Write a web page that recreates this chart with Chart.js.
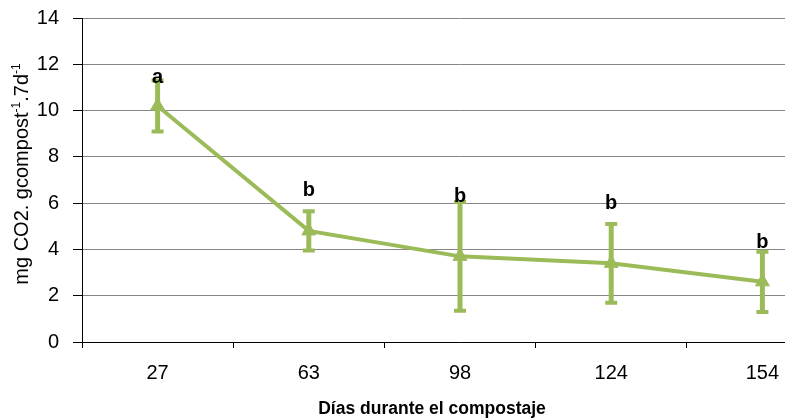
<!DOCTYPE html>
<html>
<head>
<meta charset="utf-8">
<script src="https://cdn.jsdelivr.net/npm/chart.js@4"></script>
<style>
  html, body { margin: 0; padding: 0; background: #fff; overflow: hidden; }
  #wrap { width: 847px; height: 420px; position: relative; }
</style>
</head>
<body>
<div id="wrap"><canvas id="chart"></canvas></div>
<script>
// Days of composting (categories) and measured values
let dayLabels = ['27', '63', '98', '124', '154'];
let co2Values = [10.2, 4.8, 3.7, 3.4, 2.6];
let co2Errors = [1.1, 0.85, 2.35, 1.7, 1.3];
// Significance letters and the height (in data units) where each one sits
let groupLetters = ['a', 'b', 'b', 'b', 'b'];
let letterHeights = [11.2, 6.3, 6.05, 5.75, 4.05];
let yTicks = [0, 2, 4, 6, 8, 10, 12, 14];

let green = '#9BBB59';
let fontFamily = '"Liberation Sans", Arial, sans-serif';

// Draws the error bars, the letters above them and the axis titles.
const extrasPlugin = {
    id: 'extras',
    afterDatasetsDraw(chart) {
        const ctx = chart.ctx;
        const x = chart.scales.x;
        const y = chart.scales.y;
        ctx.save();
        co2Values.forEach((v, i) => {
            const px = x.getPixelForValue(i);
            const top = y.getPixelForValue(v + co2Errors[i]);
            const bottom = y.getPixelForValue(v - co2Errors[i]);
            ctx.strokeStyle = green;
            ctx.lineWidth = 5;
            ctx.beginPath();
            ctx.moveTo(px, top);
            ctx.lineTo(px, bottom);
            ctx.stroke();
            ctx.lineWidth = 4;
            ctx.beginPath();
            ctx.moveTo(px - 6, top);
            ctx.lineTo(px + 6, top);
            ctx.moveTo(px - 6, bottom);
            ctx.lineTo(px + 6, bottom);
            ctx.stroke();

            ctx.fillStyle = '#000';
            ctx.font = 'bold 20px ' + fontFamily;
            ctx.textAlign = 'center';
            ctx.textBaseline = 'alphabetic';
            ctx.fillText(groupLetters[i], px, y.getPixelForValue(letterHeights[i]));
        });
        ctx.restore();
    },
    afterDraw(chart) {
        const ctx = chart.ctx;
        ctx.save();
        // x axis title
        ctx.fillStyle = '#000';
        ctx.font = 'bold 17.5px ' + fontFamily;
        ctx.textAlign = 'center';
        ctx.textBaseline = 'middle';
        ctx.fillText('Días durante el compostaje', 432, 409);

        // y axis title with superscripts
        ctx.translate(28, 174);
        ctx.rotate(-Math.PI / 2);
        ctx.textBaseline = 'alphabetic';
        const parts = [
            ['mg CO2. gcompost', false],
            ['-1', true],
            ['.7d', false],
            ['-1', true]
        ];
        const normal = '20px ' + fontFamily;
        const small = '12px ' + fontFamily;
        let total = 0;
        parts.forEach(p => {
            ctx.font = p[1] ? small : normal;
            total += ctx.measureText(p[0]).width;
        });
        let cx = -total / 2;
        ctx.textAlign = 'left';
        parts.forEach(p => {
            ctx.font = p[1] ? small : normal;
            ctx.fillText(p[0], cx, p[1] ? -8 : 0);
            cx += ctx.measureText(p[0]).width;
        });
        ctx.restore();
    }
};

new Chart(document.getElementById('chart'), {
    type: 'line',
    data: {
        labels: dayLabels,
        datasets: [{
            data: co2Values,
            borderColor: green,
            backgroundColor: green,
            borderWidth: 4,
            pointStyle: 'triangle',
            pointRadius: 8,
            pointBorderWidth: 1,
            tension: 0
        }]
    },
    options: {
        responsive: true,
        maintainAspectRatio: false,
        animation: false,
        layout: { padding: { top: 18, right: 2, left: 0, bottom: 0 } },
        plugins: {
            legend: { display: false },
            tooltip: { enabled: false }
        },
        scales: {
            x: {
                offset: true,
                grid: {
                    offset: true,
                    drawOnChartArea: false,
                    drawTicks: true,
                    tickLength: 6,
                    color: '#000'
                },
                border: { color: '#000', width: 1 },
                ticks: {
                    color: '#000',
                    padding: 13,
                    font: { family: fontFamily, size: 20 }
                },
                afterFit(scale) { scale.height = 78; }
            },
            y: {
                min: 0,
                max: 14,
                afterBuildTicks(scale) {
                    scale.ticks = yTicks.map(v => ({ value: v }));
                },
                grid: {
                    color: '#868686',
                    lineWidth: 1,
                    tickLength: 9,
                    tickColor: '#000'
                },
                border: { color: '#000', width: 1 },
                ticks: {
                    color: '#000',
                    padding: 14,
                    font: { family: fontFamily, size: 20 }
                },
                afterFit(scale) {
                    scale.width = 82;
                    scale.paddingTop = 0;
                    scale.paddingBottom = 0;
                }
            }
        }
    },
    plugins: [extrasPlugin]
});
</script>
</body>
</html>
